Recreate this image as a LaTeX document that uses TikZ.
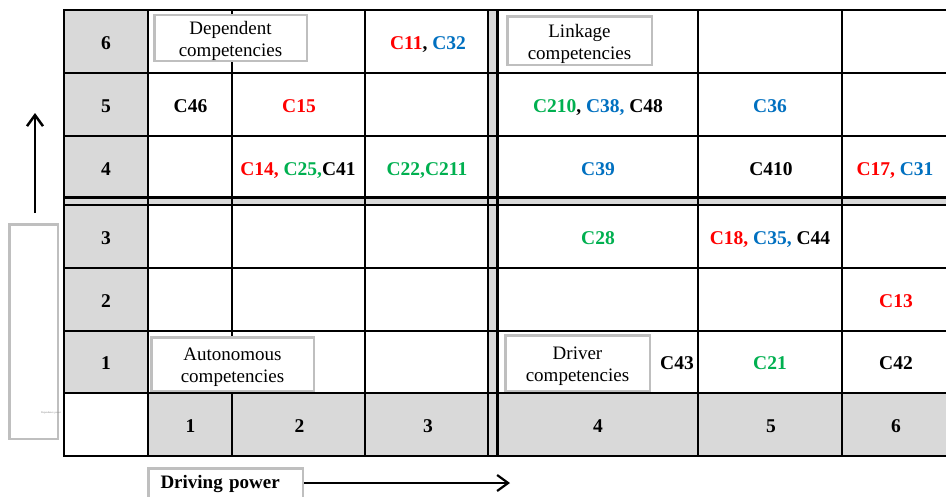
\documentclass[tikz,border=0pt]{standalone}
\usepackage{fontspec}
\setmainfont{Liberation Serif}
\usetikzlibrary{arrows.meta}
\definecolor{ismred}{HTML}{FF0000}
\definecolor{ismblue}{HTML}{0070C0}
\definecolor{ismgreen}{HTML}{00B050}
\definecolor{ismgray}{HTML}{D9D9D9}
\definecolor{ismframe}{HTML}{BFBFBF}

\begin{document}
\begin{tikzpicture}[x=1pt,y=-1pt,>={Straight Barb[length=11pt,width=16pt]},
    every node/.style={font=\fontsize{19}{22}\selectfont},
    grid/.style={line width=2.8pt,line cap=rect},
    cell/.style={font=\fontsize{19.5}{22}\selectfont\bfseries,text height=12.6pt,text depth=0pt},
    quad/.style={draw=ismframe,line width=2.5pt,fill=white,align=center,inner sep=0pt,text height=42pt}]
        \useasboundingbox (0,0) rectangle (946,496);
        \fill[white] (0,0) rectangle (946,496);
        % shaded header cells and the double rules
        \fill[ismgray] (64,10) rectangle (148,393);
        \fill[ismgray] (148,393) rectangle (960,456);
        \fill[ismgray] (488,10) rectangle (497.5,456);
        \fill[ismgray] (64,197.5) rectangle (960,205);
        \foreach \x in {64,148,232,365,698,842,960} \draw[grid] (\x,10) -- (\x,456);
        \foreach \y in {10,73,136,268,331,393,456} \draw[grid] (64,\y) -- (960,\y);
        \foreach \x in {488,497.5} \draw[line width=2.2pt] (\x,10) -- (\x,456);
        \foreach \y in {197.5,205} \draw[line width=2.2pt] (64,\y) -- (960,\y);
        % level numbers
        \foreach \r/\y in {6/43,5/106,4/169,3/238,2/301,1/363} \node[cell] (r\r) at (106,\y) {\r};
        \foreach \c/\x in {1/190.5,2/299.5,3/428,4/598,5/771,6/896} \node[cell] (c\c) at (\x,426) {\c};
        % quadrant labels
        \node[quad,minimum width=152.5,minimum height=43.5] (dep) at (230.5,38) {Dependent\\competencies};
        \node[quad,minimum width=144.5,minimum height=48.5] (link) at (579.5,40.5) {Linkage\\competencies};
        \node[quad,minimum width=162.5,minimum height=53.5] (auto) at (232.5,364) {Autonomous\\competencies};
        \node[quad,minimum width=144.5,minimum height=55.5] (drv) at (577.5,363) {Driver\\competencies};
        % elements
        \node[cell] (e63) at (428,43) {\textcolor{ismred}{C11}, \textcolor{ismblue}{C32}};
        \node[cell] (e51) at (190.5,106) {C46};
        \node[cell] (e52) at (299,106) {\textcolor{ismred}{C15}};
        \node[cell] (e54) at (598,106) {\textcolor{ismgreen}{C210}, \textcolor{ismblue}{C38,} C48};
        \node[cell] (e55) at (770,106) {\textcolor{ismblue}{C36}};
        \node[cell] (e42) at (298,169) {\textcolor{ismred}{C14,} \textcolor{ismgreen}{C25,}C41};
        \node[cell] (e43) at (427,169) {\textcolor{ismgreen}{C22,C211}};
        \node[cell] (e44) at (598,169) {\textcolor{ismblue}{C39}};
        \node[cell] (e45) at (771,169) {C410};
        \node[cell] (e46) at (895,169) {\textcolor{ismred}{C17,} \textcolor{ismblue}{C31}};
        \node[cell] (e34) at (598,238) {\textcolor{ismgreen}{C28}};
        \node[cell] (e35) at (770,238) {\textcolor{ismred}{C18,} \textcolor{ismblue}{C35,} C44};
        \node[cell] (e26) at (896,301) {\textcolor{ismred}{C13}};
        \node[cell] (e14) at (677,363) {C43};
        \node[cell] (e15) at (770,363) {\textcolor{ismgreen}{C21}};
        \node[cell] (e16) at (896,363) {C42};
        % axes
        \node[quad,minimum width=48.5,minimum height=214.5,text height=0pt] (vbox) at (33.5,331.5) {};
        \node[font=\fontsize{2.6}{3}\selectfont,text=gray,inner sep=0pt] (vlabel) at (51,413) {Dependence power};
        \coordinate (vfoot) at (35,213);
        \coordinate (vtip) at (35,113);
        \draw[->,line width=2.5pt] (vfoot) -- (vtip);
        \node[quad,anchor=north west,text width=130,align=left,inner xsep=12.25,inner ysep=4,
              text height=16,text depth=14,font=\fontsize{19}{22}\selectfont\bfseries] (hbox) at (147,467) {Driving power};
        \coordinate (htip) at (510,483);
        \draw[->,line width=2.2pt] (hbox.east |- htip) -- (htip);
\end{tikzpicture}
\end{document}
